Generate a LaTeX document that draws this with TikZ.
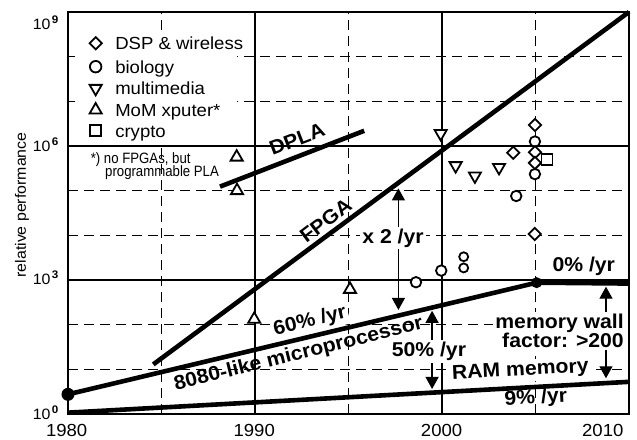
\documentclass[tikz,border=0pt]{standalone}
\usepackage{fontspec}
\setmainfont{Liberation Sans}[FakeStretch=1.06]
\newfontfamily\narrowfont{Liberation Sans}[FakeStretch=0.88]
\usetikzlibrary{shapes.geometric,arrows.meta}

\newcommand{\lblfont}{\fontsize{20}{18}\selectfont\bfseries}
\newcommand{\decade}[1]{10\hspace{1.5pt}\raisebox{6pt}{\fontsize{11}{11}\selectfont\bfseries #1}}

\begin{document}
\begin{tikzpicture}[x=18.7pt, y=44.67pt,
    grid/.style={line width=1.3pt},
    dgrid/.style={line width=1.3pt, dash pattern=on 10pt off 6pt},
    curve/.style={line width=4.6pt},
    mk/.style={draw, fill=white, line width=1.8pt, inner sep=0pt},
    dsp/.style={mk, diamond, minimum size=13pt},
    bio/.style={mk, circle, minimum size=10.5pt},
    mm/.style={mk, regular polygon, regular polygon sides=3, shape border rotate=180, minimum size=14pt},
    mom/.style={mk, regular polygon, regular polygon sides=3, minimum size=14pt},
    cry/.style={mk, rectangle, minimum size=11pt},
    lbl/.style={font=\lblfont, inner sep=1pt},
    wlbl/.style={lbl, fill=white, inner sep=2pt},
    dbl/.style={{Triangle[length=12pt,width=13pt]}-{Triangle[length=12pt,width=13pt]}, line width=1.3pt},
    leg/.style={anchor=base west, font=\fontsize{17.5}{17.5}\selectfont},
    ytick/.style={anchor=base east, font=\fontsize{15}{15}\selectfont},
    xtick/.style={anchor=base, font=\fontsize{17.5}{17.5}\selectfont}]
    \useasboundingbox (-3.636,-0.5597) rectangle (30.428,9.268);
    % grid: x = years after 1980, y = decades
    \draw[dgrid] (5,0) -- (5,9) (15,0) -- (15,9) (25,0) -- (25,9)
        (0,1) -- (30,1) (0,2) -- (30,2) (0,4) -- (30,4)
        (0,5) -- (30,5) (0,7) -- (30,7) (0,8) -- (30,8);
    \draw[grid] (10,0) -- (10,9) (20,0) -- (20,9) (0,3) -- (30,3) (0,6) -- (30,6);
    \fill[white] (0.35,6.07) rectangle (9.05,8.57);
    \draw[line width=2pt] (0,0) rectangle (30,9);
    % axis labels
    \node[ytick] (y0) at (-0.32,-0.134) {\decade{0}};
    \node[ytick] (y3) at (-0.32,2.888) {\decade{3}};
    \node[ytick] (y6) at (-0.32,5.872) {\decade{6}};
    \node[ytick] (y9) at (-0.32,8.612) {\decade{9}};
    \node[rotate=90, font=\fontsize{15}{15}\selectfont] (ylab) at (-2.46,4.68) {relative performance};
    \node[xtick] (x1980) at (-0.07,-0.508) {1980};
    \node[xtick] (x1990) at (9.96,-0.508) {1990};
    \node[xtick] (x2000) at (19.98,-0.508) {2000};
    \node[xtick, anchor=base east] (x2010) at (29.89,-0.508) {2010};
    % curves
    \coordinate (up0) at (0,0.44);
    \coordinate (up1) at (25.06,2.94);
    \coordinate (up2) at (30,2.92);
    \coordinate (ram0) at (0,0.03);
    \coordinate (ram1) at (30,0.72);
    \coordinate (fpga0) at (4.56,1.11);
    \coordinate (fpga1) at (30,9);
    \coordinate (dpla0) at (8.13,5.09);
    \coordinate (dpla1) at (15.84,6.34);
    \draw[curve] (up0) -- (up1) -- (up2);
    \draw[curve] (ram0) -- (ram1);
    \draw[curve] (fpga0) -- (fpga1);
    \draw[curve] (dpla0) -- (dpla1);
    \fill (up0) circle (6.5pt);
    \fill (up1) circle (5.5pt);
    % growth gaps
    \coordinate (x2a) at (17.67,2.33);
    \coordinate (x2b) at (17.67,5.05);
    \coordinate (pca) at (19.47,0.56);
    \coordinate (pcb) at (19.47,2.31);
    \coordinate (mwa) at (28.77,0.80);
    \coordinate (mwb) at (28.77,2.85);
    \draw[dbl] (x2a) -- (x2b);
    \draw[dbl] (pca) -- (pcb);
    \draw[dbl] (mwa) -- (mwb);
    % data points
    \node[mom] (mom1) at (9.02,5.75) {};
    \node[mom] (mom2) at (9.04,5.0) {};
    \node[mom] (mom3) at (9.96,2.12) {};
    \node[mom] (mom4) at (15.08,2.79) {};
    \node[mm] (mm1) at (19.93,6.28) {};
    \node[mm] (mm2) at (20.73,5.56) {};
    \node[mm] (mm3) at (21.76,5.33) {};
    \node[mm] (mm4) at (23.05,5.52) {};
    \node[bio] (bio1) at (18.61,2.95) {};
    \node[bio] (bio2) at (19.96,3.21) {};
    \node[bio, minimum size=9pt] (bio3) at (21.16,3.27) {};
    \node[bio, minimum size=9pt] (bio4) at (21.16,3.52) {};
    \node[bio] (bio5) at (23.97,4.88) {};
    \node[bio] (bio6) at (24.97,6.10) {};
    \node[bio] (bio7) at (24.97,5.37) {};
    \node[dsp] (dsp1) at (24.97,6.47) {};
    \node[dsp] (dsp2) at (24.97,5.86) {};
    \node[dsp] (dsp3) at (24.97,5.62) {};
    \node[dsp] (dsp4) at (23.81,5.85) {};
    \node[dsp] (dsp5) at (24.96,4.03) {};
    \node[cry] (cry1) at (25.61,5.69) {};
    % legend
    \node[dsp] (lg1) at (1.48,8.30) {};
    \node[bio, minimum size=11.5pt] (lg2) at (1.48,7.775) {};
    \node[mm] (lg3) at (1.48,7.29) {};
    \node[mom] (lg4) at (1.48,6.805) {};
    \node[cry] (lg5) at (1.48,6.342) {};
    \node[leg] (lt1) at (2.34,8.156) {DSP \& wireless};
    \node[leg] (lt2) at (2.34,7.631) {biology};
    \node[leg] (lt3) at (2.34,7.146) {multimedia};
    \node[leg] (lt4) at (2.34,6.661) {MoM xputer*};
    \node[leg] (lt5) at (2.34,6.198) {crypto};
    \node[anchor=base west, font=\narrowfont\fontsize{15}{15}\selectfont] (fn1) at (1.03,5.61) {*) no FPGAs, but};
    \node[anchor=base west, font=\narrowfont\fontsize{15}{15}\selectfont] (fn2) at (1.80,5.31) {programmable PLA};
    % labels
    \node[lbl, rotate=21] (dpla) at (12.25,6.156) {DPLA};
    \node[lbl, rotate=37] (fpga) at (13.78,4.327) {FPGA};
    \node[lbl, rotate=14] (upl) at (12.33,1.332) {8080-like microprocessor};
    \node[wlbl, rotate=13.5] (sixty) at (12.94,2.07) {60\% /yr};
    \node[wlbl] (x2) at (17.38,3.94) {x 2 /yr};
    \node[wlbl] (fifty) at (19.30,1.395) {50\% /yr};
    \node[lbl] (zero) at (27.58,3.30) {0\% /yr};
    \node[wlbl, anchor=east, align=right] (wall) at (29.84,1.858) {memory wall\\factor: >200};
    \node[wlbl, rotate=3] (ram) at (24.19,0.963) {RAM memory};
    \node[lbl, rotate=3] (nine) at (25.02,0.351) {9\% /yr};
\end{tikzpicture}
\end{document}
